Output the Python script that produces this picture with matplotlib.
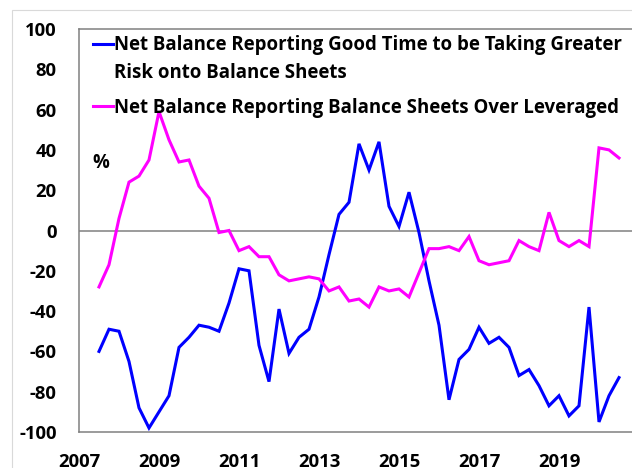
import numpy as np
import pandas as pd
import matplotlib
matplotlib.use("Agg")
import matplotlib.pyplot as plt
from matplotlib.lines import Line2D
from matplotlib.patches import Rectangle

# Quarterly survey net balances, 2007 Q2 to 2020 Q2
quarters = pd.period_range("2007Q2", "2020Q2", freq="Q")

good_time_risk = [
    -60, -49, -50, -65, -88, -98, -90, -82, -58, -53,
    -47, -48, -50, -36, -19, -20, -57, -75, -39, -61,
    -53, -49, -33, -12, 8, 14, 43, 30, 44, 12,
    2, 19, -1, -25, -47, -84, -64, -59, -48, -56,
    -53, -58, -72, -69, -77, -87, -82, -92, -87, -38,
    -95, -82, -73,
]
over_leveraged = [
    -28, -17, 6, 24, 27, 35, 59, 45, 34, 35,
    22, 16, -1, 0, -10, -8, -13, -13, -22, -25,
    -24, -23, -24, -30, -28, -35, -34, -38, -28, -30,
    -29, -33, -21, -9, -9, -8, -10, -3, -15, -17,
    -16, -15, -5, -8, -10, 9, -5, -8, -5, -8,
    41, 40, 36,
]

label_good = "Net Balance Reporting Good Time to be Taking Greater\nRisk onto Balance Sheets"
label_over = "Net Balance Reporting Balance Sheets Over Leveraged"
year_ticks = [2007, 2009, 2011, 2013, 2015, 2017, 2019]
value_ticks = list(range(-100, 101, 20))

BLUE = "#0000FF"
MAGENTA = "#FF00FF"
FRAME = "#808080"
FONT = "Open Sans"

x = quarters.year + quarters.quarter / 4

W, H = 632, 468
fig = plt.figure(figsize=(W / 100, H / 100), dpi=100)
ax = fig.add_axes([79 / W, 36 / H, 553 / W, 403 / H])

ax.plot(x, good_time_risk, color=BLUE, lw=2.2, solid_joinstyle="miter")
ax.plot(x, over_leveraged, color=MAGENTA, lw=2.2, solid_joinstyle="miter")
ax.axhline(0, color=FRAME, lw=1.1, zorder=0)

ax.set_xlim(2007, 2007 + 553 / 40)
ax.set_ylim(-100, 100)
ax.set_xticks(year_ticks)
ax.set_xticklabels([str(y) for y in year_ticks])
ax.set_yticks(value_ticks)
ax.set_yticklabels([str(v) for v in value_ticks])
ax.tick_params(axis="both", length=0, labelsize=13.3)
ax.tick_params(axis="y", pad=16)
ax.tick_params(axis="x", pad=15)
for lab in ax.get_xticklabels() + ax.get_yticklabels():
    lab.set_fontweight("bold")
    lab.set_family(FONT)

for side in ("left", "top", "bottom"):
    ax.spines[side].set_color(FRAME)
    ax.spines[side].set_linewidth(1.1)
ax.spines["right"].set_visible(False)

# outer chart frame
fig.patches.append(Rectangle((12 / W, -0.1), 1.2, 1.1 - 10 / H, transform=fig.transFigure,
                             fill=False, edgecolor="#d9d9d9", lw=0.8))

# legend
def px(xp, yp):
    return xp / W, 1 - yp / H

for yline, col in ((44, BLUE), (106, MAGENTA)):
    (x0, y0), (x1, _) = px(93, yline), px(113, yline)
    fig.add_artist(Line2D([x0, x1], [y0, y0], color=col, lw=2.2, transform=fig.transFigure))

tx = dict(fontsize=13.4, fontweight="bold", family=FONT, ha="left", va="baseline")
lines_good = label_good.split("\n")
fig.text(*px(114, 50), lines_good[0], **tx)
fig.text(*px(114, 77.7), lines_good[1], **tx)
fig.text(*px(114, 112.7), label_over, **tx)
fig.text(*px(92, 168), "%", **tx)

fig.savefig("out.png", dpi=100)
